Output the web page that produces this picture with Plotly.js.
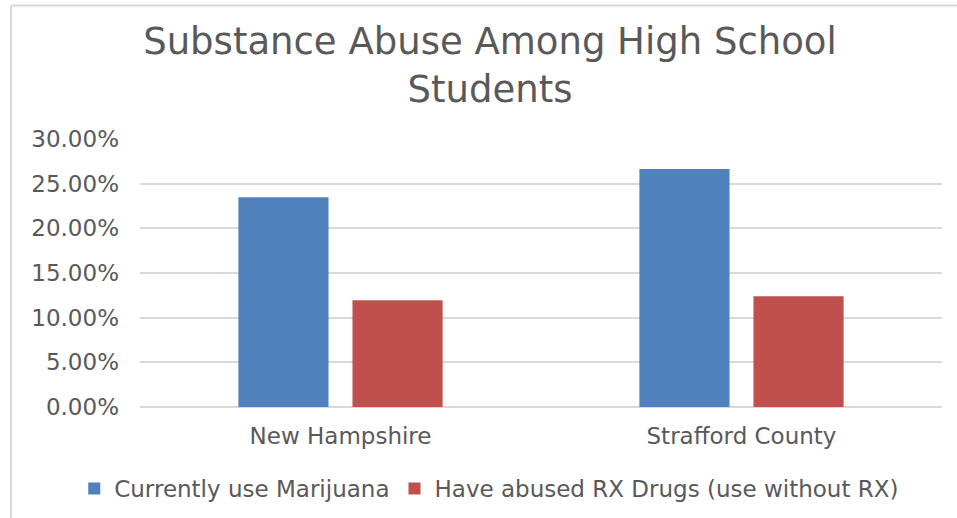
<!DOCTYPE html>
<html>
<head>
<meta charset="utf-8">
<script src="https://cdn.plot.ly/plotly-3.0.1.min.js"></script>
<style>
html,body{margin:0;padding:0;background:#fff;}
#chart{width:957px;height:518px;}
</style>
</head>
<body>
<div id="chart"></div>
<script>
const categories = ["New Hampshire", "Strafford County"];
const seriesNames = ["Currently use Marijuana", "Have abused RX Drugs (use without RX)"];
const marijuana = [0.2347, 0.2665];
const rxDrugs = [0.1196, 0.1241];
const yTicks = [0, 0.05, 0.10, 0.15, 0.20, 0.25, 0.30];

const FONT = "DejaVu Sans";
const TXT = "#595959";
const GRID = "#d9d9d9";

const traces = [
  {type: "bar", name: seriesNames[0], x: categories, y: marijuana,
   marker: {color: "#4f81bd"}, hoverinfo: "x+y"},
  {type: "bar", name: seriesNames[1], x: categories, y: rxDrugs,
   marker: {color: "#c0504d"}, hoverinfo: "x+y"}
];

const layout = {
  width: 957, height: 518,
  margin: {l: 140, r: 15, t: 139, b: 111, pad: 0, autoexpand: false},
  paper_bgcolor: "#ffffff", plot_bgcolor: "#ffffff",
  font: {family: FONT, color: TXT, size: 23},
  title: {text: "Substance Abuse Among High School<br>Students",
          font: {family: FONT, size: 37, color: TXT},
          x: 0.512, xref: "container", xanchor: "center",
          y: 0.895, yref: "container", yanchor: "top"},
  barmode: "group", bargap: 0.431, bargroupgap: 0.21,
  xaxis: {type: "category", showgrid: false, zeroline: false, showline: false,
          ticks: "", tickfont: {family: FONT, size: 23, color: TXT}, ticklabelstandoff: 13},
  yaxis: {range: [0, 0.3], tickvals: yTicks, tickformat: ".2%",
          showgrid: true, gridcolor: GRID, gridwidth: 1.5,
          zeroline: true, zerolinecolor: GRID, zerolinewidth: 1.5,
          showline: false, ticks: "", ticklabelstandoff: 20,
          tickfont: {family: FONT, size: 23, color: TXT}},
  showlegend: true,
  legend: {orientation: "h", x: -0.082, xanchor: "left", y: -0.304, yanchor: "middle",
           font: {family: FONT, size: 23, color: TXT}, traceorder: "normal",
           itemwidth: 30, bgcolor: "rgba(0,0,0,0)"},
  shapes: [
    {type: "line", xref: "paper", yref: "paper", x0: -0.1608, x1: -0.1608, y0: 1.4985, y1: -0.5,
     line: {color: GRID, width: 2}},
    {type: "line", xref: "paper", yref: "paper", x0: -0.1608, x1: 1.1, y0: 1.4985, y1: 1.4985,
     line: {color: GRID, width: 2}}
  ]
};

Plotly.newPlot("chart", traces, layout, {displayModeBar: false, responsive: false});
</script>
</body>
</html>
